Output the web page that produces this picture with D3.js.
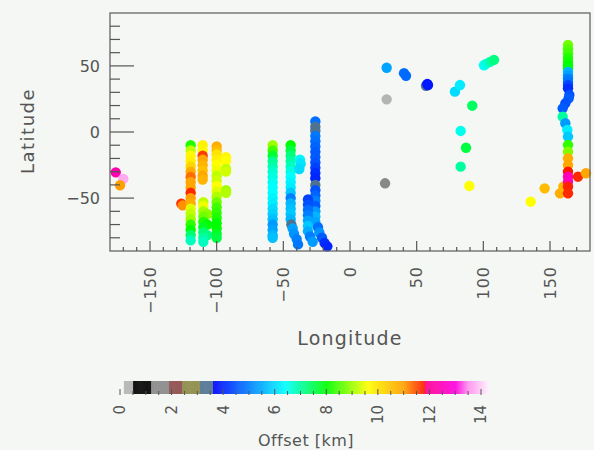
<!DOCTYPE html>
<html>
<head>
<meta charset="utf-8">
<script src="https://cdn.jsdelivr.net/npm/d3@7"></script>
<style>
body { margin: 0; background: #f4f7f3; }
svg { display: block; font-family: "DejaVu Sans", sans-serif; }
text { fill: #555; }
</style>
</head>
<body>
<svg id="chart" width="594" height="450"></svg>
<script>
// each point: [longitude, latitude, offset km]
const isolated = [
  [-175.7, -30.5, 12.3], [-170, -35.5, 13.7], [-172.5, -40.3, 11.0],
  [-126.5, -54.2, 11.7], [-125.5, -55.5, 11.1]
];
const track1 = [
  [-119.5, -10, 8.2], [-119.5, -14, 9.2], [-119.5, -18, 9.7], [-119.5, -22, 9.8],
  [-119.5, -26, 10.2], [-119.5, -30, 10.8], [-119.5, -34, 11.3], [-119.5, -38, 10.9],
  [-119.5, -42, 10.9], [-119.5, -46, 11.7], [-119.5, -50, 11.0], [-119.5, -54, 10.8],
  [-119.5, -58, 9.4], [-119.5, -62, 9.2], [-119.5, -66, 9.0], [-119.5, -70, 8.3],
  [-119.5, -74, 8.0], [-119.5, -78, 7.3], [-119.5, -82, 6.8]
];
const track2 = [
  [-110.5, -10, 9.8], [-110.5, -14, 9.7], [-110.5, -18, 11.6], [-110.5, -21, 10.9],
  [-110.5, -25, 10.7], [-110.5, -29, 10.5], [-110.5, -33, 10.9], [-110.5, -36, 10.7],
  [-110, -53, 9.2], [-110, -56, 9.5], [-110, -60, 9.0], [-107, -62, 8.9],
  [-110, -64, 8.7], [-110, -68, 8.2], [-107, -70, 8.0], [-110, -72, 7.8],
  [-110, -76, 7.3], [-107, -78, 7.2], [-110, -80, 7.0], [-110, -83, 6.8]
];
const track3 = [
  [-100, -11, 10.8], [-100, -14, 10.6], [-100, -17, 10.0], [-100, -21, 9.8],
  [-100, -25, 9.6], [-100, -29, 9.5], [-100, -33, 9.2], [-100, -37, 9.3],
  [-100, -41, 9.6], [-100, -45, 9.4], [-100, -49, 9.1], [-100, -53, 8.7],
  [-100, -57, 8.4], [-100, -61, 8.3], [-100, -65, 8.2], [-100, -69, 8.0],
  [-100, -73, 8.0], [-100, -77, 7.8], [-100, -80, 7.6]
];
const track4 = [
  [-93, -19, 9.7], [-93, -22, 9.6], [-93, -28, 9.2], [-93, -30, 9.3],
  [-93, -44, 9.0], [-93, -46, 9.1]
];
const track5 = [
  [-58, -10, 9.0], [-58, -14, 8.4], [-58, -18, 7.7], [-58, -22, 7.1],
  [-58, -26, 6.9], [-58, -30, 6.7], [-58, -34, 6.6], [-58, -38, 6.5],
  [-58, -42, 6.4], [-58, -46, 6.4], [-58, -50, 6.3], [-58, -54, 6.2],
  [-58, -58, 6.0], [-58, -62, 5.9], [-58, -66, 5.7], [-58, -70, 5.3],
  [-58, -74, 5.4], [-58, -78, 5.6], [-58, -80, 5.7]
];
const track6 = [
  [-44.5, -10, 8.0], [-44.5, -14, 7.6], [-44.5, -18, 7.2], [-44.5, -22, 7.0],
  [-44.5, -26, 6.8], [-44.5, -30, 6.6], [-44.5, -34, 6.4], [-44.5, -38, 6.3],
  [-44.5, -42, 6.2], [-44.5, -46, 5.8], [-44.5, -50, 5.0], [-44.5, -54, 5.6],
  [-44.5, -58, 5.7], [-44.5, -62, 5.8], [-44.5, -66, 5.6], [-44, -70, 3.5],
  [-43, -73, 5.4], [-42, -77, 5.2], [-40, -81, 5.0], [-39, -85, 4.9],
  [-37.5, -21, 6.3], [-37, -24, 6.1], [-38, -28, 6.0]
];
const track7 = [
  [-26, 8, 4.8], [-26, 4, 3.5], [-26, 1, 3.4], [-26, -3, 4.9],
  [-26, -7, 4.8], [-26, -11, 4.7], [-26, -15, 4.6], [-26, -19, 4.6],
  [-26, -23, 4.5], [-26, -27, 4.3], [-26, -31, 4.1], [-26, -35, 4.0],
  [-26, -40, 3.4], [-26, -44, 4.5], [-26, -48, 4.7], [-26, -52, 5.0],
  [-26, -56, 4.6], [-26, -60, 5.3], [-26, -64, 5.6], [-26, -68, 5.4],
  [-24, -72, 4.8], [-23, -76, 5.2], [-21, -80, 4.6], [-19, -84, 4.1],
  [-31.5, -51, 4.3], [-31.5, -55, 4.5], [-31.5, -59, 4.8], [-31.5, -63, 5.0],
  [-31.5, -67, 5.4], [-31.5, -71, 5.8], [-31.5, -75, 5.5], [-30, -79, 5.0],
  [-28, -83, 5.3], [-17, -86.5, 4.0]
];
const scattered = [
  [27.5, 48.6, 5.4], [27.5, 24.7, 0.3], [40.5, 44.5, 4.8], [42, 42.5, 4.75],
  [57, 35, 3.3], [58, 36.3, 3.85], [58.5, 35.5, 3.85], [78.7, 30.5, 6.0],
  [82.5, 35.5, 6.2], [91.7, 19.9, 7.4], [83, 0.8, 6.5], [87, -11.9, 7.6],
  [83, -26.2, 7.0], [89.5, -40.8, 9.6], [26.3, -38.8, 1.5],
  [100.5, 50.5, 6.4], [102, 51.5, 6.6], [105, 53, 6.9], [108, 54.5, 7.2]
];
const track8 = [
  [163.5, 65.8, 8.7], [163.5, 62.5, 8.5], [163.5, 59.5, 8.4], [163.5, 56, 8.2],
  [163.5, 53, 8.1], [163.5, 50.5, 8.0], [163.5, 48, 7.9], [163.5, 45.5, 5.6],
  [163.5, 43, 5.4], [163.5, 40.5, 5.0], [163.5, 38, 4.9], [163.5, 35.5, 4.4],
  [163.5, 33, 4.1], [164.5, 28, 4.5], [164, 25.5, 4.6], [161.5, 21.7, 4.5],
  [159.5, 17.9, 4.6], [159.5, 11.6, 7.0], [161.5, 6.6, 5.3], [163, 1.5, 6.2],
  [163.5, -3.5, 5.8], [163.5, -9.8, 8.3], [163.5, -14.9, 8.8], [163.5, -19.9, 10.8],
  [163.5, -25, 10.9], [171, -33.8, 11.7], [177, -31.2, 10.9], [157.5, -46.4, 10.8],
  [160, -41.4, 10.7], [146, -42.6, 10.6], [135.5, -52.7, 9.6],
  [163.5, -30, 11.8], [163.5, -33.8, 12.4], [163.5, -37.6, 12.5],
  [163.5, -41.4, 11.75], [163.5, -46.4, 11.7]
];

const lonTicks = [-150, -100, -50, 0, 50, 100, 150];
const latTicks = [-50, 0, 50];
const offsetTicks = [0, 2, 4, 6, 8, 10, 12, 14];

// colour table: grey steps below ~3.6 km, then a rainbow
const stepEdges = [0.5, 1.2, 1.9, 2.4, 3.1, 3.6];
const stepColors = ["#b4b4b4", "#000000", "#888888", "#8c4a4a", "#8c8a46", "#4e7391"];
const rampStops = [3.6, 5.0, 6.4, 8.0, 9.6, 11.0, 11.8, 11.85, 13.0, 13.5, 14.4];
const rampColors = ["#0000ff", "#0080ff", "#00ffff", "#00ff00", "#ffff00", "#ffa000",
                    "#ff1800", "#ff0090", "#ff00e0", "#ff90f0", "#ffffff"];

const ramp = d3.scaleLinear().domain(rampStops).range(rampColors).clamp(true);
function offsetColor(v) {
  const i = d3.bisectRight(stepEdges, v);
  return i < stepEdges.length ? stepColors[i] : ramp(v);
}

const svg = d3.select("#chart");
svg.append("rect").attr("width", 594).attr("height", 450).attr("fill", "#f4f7f3");

const x = d3.scaleLinear().domain([-180, 180]).range([110, 590]);
const y = d3.scaleLinear().domain([-90, 90]).range([251, 13]);

// points
const allPoints = [].concat(isolated, track1, track2, track3, track4, track5,
                            track6, track7, scattered, track8);
svg.append("g").selectAll("circle")
  .data(allPoints)
  .join("circle")
  .attr("cx", d => x(d[0]))
  .attr("cy", d => y(d[1]))
  .attr("r", 5.2)
  .attr("fill", d => offsetColor(d[2]));

// frame
svg.append("rect")
  .attr("x", x(-180)).attr("y", y(90))
  .attr("width", x(180) - x(-180)).attr("height", y(-90) - y(90))
  .attr("fill", "none").attr("stroke", "#666").attr("stroke-width", 1.3);

// ticks (inside, bottom and left only)
const tickG = svg.append("g").attr("stroke", "#555").attr("stroke-width", 1.2);
d3.range(-170, 171, 10).forEach(v => {
  const major = v % 50 === 0;
  tickG.append("line")
    .attr("x1", x(v)).attr("x2", x(v))
    .attr("y1", y(-90)).attr("y2", y(-90) - (major ? 10 : 4));
});
d3.range(-80, 81, 10).forEach(v => {
  const major = v % 50 === 0;
  tickG.append("line")
    .attr("x1", x(-180)).attr("x2", x(-180) + (major ? 24 : 10))
    .attr("y1", y(v)).attr("y2", y(v));
});

const fmt = v => String(v).replace("-", "\u2212");

svg.append("g").selectAll("text")
  .data(latTicks)
  .join("text")
  .attr("x", 100)
  .attr("y", d => y(d))
  .attr("dy", "0.36em")
  .attr("text-anchor", "end")
  .style("font-size", "16px")
  .text(fmt);

svg.append("g").selectAll("text")
  .data(lonTicks)
  .join("text")
  .attr("transform", d => `translate(${x(d)},266) rotate(-90)`)
  .attr("text-anchor", "end")
  .attr("dy", "0.36em")
  .style("font-size", "16px")
  .style("letter-spacing", "1px")
  .text(fmt);

svg.append("text")
  .attr("transform", "translate(28,131) rotate(-90)")
  .attr("text-anchor", "middle")
  .attr("dy", "0.36em")
  .style("font-size", "18px")
  .style("letter-spacing", "1.5px")
  .text("Latitude");

svg.append("text")
  .attr("x", 350).attr("y", 338)
  .attr("text-anchor", "middle")
  .attr("dy", "0.36em")
  .style("font-size", "19px")
  .style("letter-spacing", "1.2px")
  .text("Longitude");

// colour bar
const cx = d3.scaleLinear().domain([0, 14]).range([120, 481]);
const barTop = 381, barBottom = 394;
const barSteps = d3.range(0.15, 14.3, 0.02);
svg.append("g").selectAll("rect")
  .data(barSteps)
  .join("rect")
  .attr("x", d => cx(d))
  .attr("y", barTop)
  .attr("width", cx(0.03) - cx(0))
  .attr("height", barBottom - barTop)
  .attr("fill", d => offsetColor(d));

const cbTicks = svg.append("g").attr("stroke", "#555").attr("stroke-width", 1);
d3.range(0, 14.01, 0.5).forEach(v => {
  const major = v % 2 === 0;
  cbTicks.append("line")
    .attr("x1", cx(v)).attr("x2", cx(v))
    .attr("y1", barBottom + 1).attr("y2", barBottom - (major ? 5 : 3));
});

svg.append("g").selectAll("text")
  .data(offsetTicks)
  .join("text")
  .attr("transform", d => `translate(${cx(d)},405) rotate(-90)`)
  .attr("text-anchor", "end")
  .attr("dy", "0.36em")
  .style("font-size", "15px")
  .text(d => d);

svg.append("text")
  .attr("x", 306).attr("y", 440)
  .attr("text-anchor", "middle")
  .attr("dy", "0.36em")
  .style("font-size", "16px")
  .style("letter-spacing", "0.5px")
  .text("Offset [km]");
</script>
</body>
</html>
